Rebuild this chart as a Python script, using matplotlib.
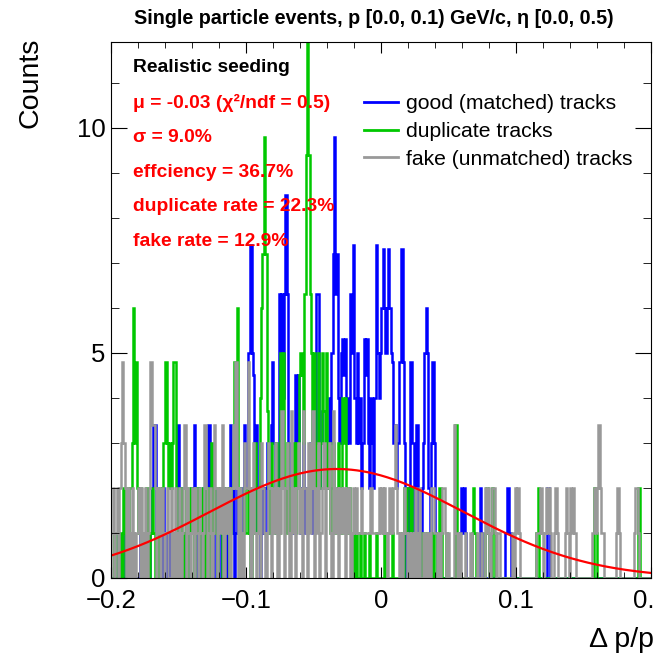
import matplotlib
matplotlib.use("Agg")
import matplotlib.pyplot as plt
from matplotlib.lines import Line2D
import numpy as np

plt.rcParams['font.family'] = ['Liberation Sans', 'DejaVu Sans']

# 400 bins of width 0.001 between -0.2 and 0.2, one row = 20 bins (0.02)
x_lo, x_hi, n_bins = -0.2, 0.2, 400

# good (matched) tracks
good_rows = [
    [0, 0, 0, 0, 0, 1, 0, 0, 0, 0, 1, 0, 0, 0, 0, 0, 1, 0, 0, 0],
    [0, 1, 0, 0, 1, 0, 0, 1, 0, 1, 2, 3.4, 3.4, 1, 0, 0, 1, 0, 2, 0],
    [0, 1, 0, 1, 0, 0, 1, 0, 2, 3.4, 1, 2, 0, 1, 0, 1, 0, 0, 1, 2],
    [2, 3.4, 1, 0, 2, 1, 0, 1, 2, 1, 0, 2, 3.4, 1, 2, 0, 1, 2, 0, 1],
    [1, 0, 2, 1, 2, 0, 1, 2, 3.4, 1, 2, 0, 1, 2, 1, 0, 2, 1, 3.4, 2],
    [2, 5, 5, 7.4, 5, 4.5, 2, 3.4, 1, 2, 0, 1, 2, 1, 2, 3, 1, 2, 3.4, 4.8],
    [3, 2, 1, 2, 6.3, 5, 6.3, 4, 6.3, 8.5, 6.3, 3, 2, 1, 2, 1, 4.5, 3, 4.5, 2],
    [1, 2, 3, 1, 2, 1, 2, 3, 2, 1, 2, 3, 6.3, 6.3, 2, 3, 3.7, 3.7, 3.7, 2],
    [3, 4, 3, 5, 7.2, 9.8, 6.3, 7.2, 4, 3, 5, 5.3, 4.5, 5.3, 3, 4, 3, 6.3, 5, 7.4],
    [4, 3, 5, 3, 4, 2, 3, 5.3, 4.5, 5.3, 3, 2, 4, 3, 2, 4, 7.4, 5, 4, 5],
    [6, 7.3, 6, 5, 6, 7.3, 6, 5, 4.8, 3, 3.4, 2, 3, 4.8, 4.8, 7.3, 4.8, 3, 0, 2],
    [0, 4.8, 4.8, 3, 0, 2, 3.4, 1, 0, 1, 2, 3, 5, 6, 5, 2, 0, 3, 4.8, 3],
    [1, 0, 0, 0, 0, 0, 0, 0, 0, 0, 0, 0, 0, 0, 0, 0, 0, 0, 1, 2],
    [1, 2, 1, 0, 0, 0, 0, 0, 0, 0, 0, 0, 0, 2, 1, 0, 0, 0, 0, 0],
    [0, 0, 0, 0, 0, 0, 0, 0, 0, 0, 0, 0, 1, 2, 2, 1, 0, 0, 0, 0],
    [0, 0, 0, 0, 0, 0, 0, 0, 0, 0, 0, 0, 0, 0, 0, 0, 0, 0, 0, 0],
    [0, 0, 0, 2, 1, 0, 0, 0, 0, 0, 0, 0, 0, 0, 0, 0, 0, 0, 0, 0],
    [0, 0, 0, 0, 0, 0, 0, 0, 0, 0, 0, 0, 0, 0, 0, 0, 0, 0, 0, 0],
    [0, 0, 0, 0, 0, 0, 0, 0, 0, 0, 0, 0, 0, 0, 0, 0, 0, 0, 0, 0],
    [0, 0, 0, 0, 0, 0, 0, 0, 0, 0, 0, 0, 0, 0, 0, 0, 0, 0, 0, 0],
]

# duplicate tracks
dup_rows = [
    [0, 0, 1, 0, 0, 1, 0, 1, 0, 2, 1, 0, 1, 2, 2, 3, 6, 3, 4.8, 2],
    [1, 2, 0, 1, 1, 0, 2, 1, 0, 1, 2, 1, 0, 1, 0, 2, 1, 2, 3, 3],
    [4.8, 3, 2, 3, 2, 3, 4.8, 4.8, 2, 1, 0, 2, 1, 0, 1, 2, 0, 1, 2, 1],
    [1, 0, 2, 1, 2, 0, 1, 2, 1, 0, 2, 1, 2, 0, 3, 1, 2, 1, 0, 2],
    [2, 1, 0, 1, 2, 1, 2, 0, 1, 2, 3, 4.8, 3, 6, 2, 1, 0, 1, 2, 1],
    [1, 2, 1, 0, 2, 1, 3, 2, 1, 2, 4, 6, 7.2, 9.8, 7.2, 3.7, 2, 1, 3, 2],
    [2, 1, 3, 2, 1, 5, 3, 5, 2, 1, 3, 2, 1, 2, 3, 2, 1, 3, 2, 4.5],
    [5, 4.5, 3, 6.3, 9.4, 13, 9.4, 6.3, 5, 3, 5, 2, 3, 5, 2, 3, 5, 3.7, 2, 5],
    [2, 3, 1, 2, 3, 2, 1, 2, 3, 2, 1, 4, 3, 4, 2, 1, 2, 1, 0, 1],
    [0, 1, 0, 0, 1, 0, 0, 1, 0, 0, 0, 1, 0, 0, 0, 0, 1, 0, 0, 0],
    [0, 0, 1, 0, 0, 0, 0, 0, 1, 0, 0, 0, 0, 0, 1, 0, 0, 2, 1, 2],
    [2, 1, 2, 0, 0, 0, 0, 0, 0, 0, 1, 0, 0, 1, 0, 0, 1, 0, 1, 0],
    [0, 1, 0, 2, 1, 0, 0, 0, 1, 0, 0, 0, 0, 0, 0, 3.4, 0, 0, 0, 0],
    [0, 0, 0, 0, 0, 0, 0, 1, 2, 1, 0, 0, 0, 0, 0, 0, 0, 1, 2, 1],
    [0, 0, 2, 1, 0, 0, 0, 0, 0, 0, 0, 0, 0, 0, 0, 0, 0, 0, 0, 0],
    [0, 0, 0, 0, 0, 0, 0, 0, 0, 0, 0, 0, 0, 0, 0, 1, 2, 0, 0, 0],
    [0, 0, 0, 0, 0, 0, 0, 0, 0, 0, 0, 0, 0, 0, 0, 0, 0, 0, 0, 0],
    [0, 0, 0, 0, 0, 0, 0, 0, 0, 0, 0, 0, 0, 0, 0, 0, 0, 0, 2, 1],
    [0, 0, 0, 0, 0, 0, 0, 0, 0, 0, 0, 0, 0, 0, 0, 0, 0, 0, 0, 0],
    [0, 0, 0, 0, 0, 0, 0, 0, 0, 0, 2, 2, 0, 0, 0, 0, 0, 0, 0, 0],
]

# fake (unmatched) tracks
fake_rows = [
    [1, 2, 0, 1, 2, 0, 2, 3, 4.8, 3, 2, 0, 2, 1, 0, 2, 1, 0, 1, 1],
    [2, 0, 2, 0, 1, 2, 0, 1, 2, 4.8, 3.4, 3.4, 2, 0, 2, 1, 0, 2, 1, 0],
    [1, 2, 0, 0, 2, 1, 0, 2, 1, 0, 2, 0, 1, 2, 3.4, 0, 2, 1, 0, 1],
    [2, 0, 2, 1, 0, 2, 1, 0, 1, 3.4, 2, 0, 1, 2, 0, 1, 3.4, 2, 0, 2],
    [1, 2, 3.4, 0, 2, 1, 2, 0, 0, 2, 3.4, 2, 4.8, 2, 0, 2, 1, 0, 3, 2],
    [2, 4.8, 2, 0, 2, 3, 1, 0, 1, 2, 0, 3, 2, 1, 0, 1, 3, 2, 0, 2],
    [1, 3, 2, 0, 2, 1, 3.7, 2, 0, 2, 3, 1, 0, 3.7, 1, 2, 0, 2, 3, 1],
    [2, 0, 3.7, 2, 1, 0, 3, 1, 2, 3.7, 0, 2, 1, 3, 0, 1, 2, 3, 0, 2],
    [2, 3, 1, 0, 3.7, 2, 1, 2, 0, 2, 1, 1, 2, 0, 2, 1, 2, 0, 1, 2],
    [1, 2, 1, 1, 1, 2, 1, 1, 1, 1, 1, 1, 2, 1, 1, 1, 1, 1, 2, 1],
    [2, 1, 2, 1, 0, 1, 2, 1, 1, 2, 3.4, 2, 1, 0, 1, 0, 1, 2, 1, 0],
    [1, 0, 1, 0, 1, 2, 0, 1, 2, 0, 0, 1, 0, 1, 0, 1, 0, 2, 2, 1],
    [1, 0, 1, 0, 1, 2, 2, 1, 0, 1, 0, 0, 0, 0, 3.4, 1, 0, 0, 1, 0],
    [0, 0, 1, 0, 0, 0, 1, 0, 0, 0, 0, 1, 0, 0, 1, 0, 0, 2, 1, 2],
    [0, 1, 2, 2, 1, 0, 1, 1, 0, 0, 0, 0, 0, 0, 0, 0, 0, 1, 0, 2],
    [1, 2, 1, 0, 0, 0, 0, 0, 0, 0, 0, 0, 0, 0, 0, 1, 1, 1, 2, 1],
    [0, 1, 2, 1, 2, 1, 0, 0, 1, 2, 1, 0, 0, 0, 0, 0, 1, 2, 1, 0],
    [2, 1, 2, 1, 0, 0, 0, 0, 0, 0, 0, 0, 0, 0, 0, 0, 1, 1, 2, 1],
    [2, 3.4, 2, 1, 1, 0, 0, 0, 0, 0, 0, 0, 0, 0, 1, 2, 1, 0, 0, 0],
    [0, 0, 0, 0, 0, 0, 0, 1, 2, 2, 1, 0, 0, 0, 0, 0, 0, 0, 0, 0],
]

# gaussian fit
fit_amp, fit_mean, fit_sigma = 2.42, -0.033, 0.094

info_lines = ['\u03bc = -0.03 (\u03c7\u00b2/ndf = 0.5)', '\u03c3 = 9.0%', 'effciency = 36.7%',
              'duplicate rate = 22.3%', 'fake rate = 12.9%']

good = np.concatenate(good_rows)
dup = np.concatenate(dup_rows)
fake = np.concatenate(fake_rows)
edges = np.linspace(x_lo, x_hi, n_bins + 1)

fig = plt.figure(figsize=(6.55, 6.58), dpi=100)
ax = fig.add_axes([0.170, 0.1216, 0.824, 0.8145])

c_good, c_dup, c_fake = '#0000ff', '#00c800', '#999999'
ax.stairs(good, edges, color=c_good, lw=1.8)
ax.stairs(dup, edges, color=c_dup, lw=1.8)
ax.stairs(fake, edges, color=c_fake, lw=1.8)

xf = np.linspace(x_lo, x_hi, 300)
ax.plot(xf, fit_amp * np.exp(-0.5 * ((xf - fit_mean) / fit_sigma) ** 2), color='red', lw=1.6)

ax.set_xlim(x_lo, x_hi)
ax.set_ylim(0, 11.9)
ax.set_xticks([-0.2, -0.1, 0, 0.1, 0.2])
ax.set_xticklabels(['\u22120.2', '\u22120.1', '0', '0.1', '0.2'])
ax.set_xticks(np.arange(-0.2, 0.201, 0.02), minor=True)
ax.set_yticks([0, 5, 10])
ax.set_yticks(np.arange(0, 12), minor=True)
ax.tick_params(which='both', direction='in', top=True, right=True, labelsize=18.5)
ax.tick_params(axis='x', which='major', length=8, pad=8)
ax.tick_params(axis='x', which='minor', length=4)
ax.tick_params(axis='y', which='major', length=11.5, pad=4)
ax.tick_params(axis='y', which='minor', length=6)
for sp in ax.spines.values():
    sp.set_linewidth(0.8)

fig.text(0.570, 0.972, 'Single particle events, p [0.0, 0.1) GeV/c, \u03b7 [0.0, 0.5)',
         ha='center', va='center', fontsize=14.2, fontweight='bold')
fig.text(0.046, 0.943, 'Counts', rotation=90, ha='center', va='top', fontsize=20.5)
fig.text(0.999, 0.027, '\u0394 p/p', ha='right', va='center', fontsize=20.5)

fig.text(0.203, 0.8967, 'Realistic seeding', ha='left', va='center', fontsize=13.9, fontweight='bold')
for i, line in enumerate(info_lines):
    fig.text(0.203, 0.8435 - i * 0.0525, line, ha='left', va='center', fontsize=13.9,
             fontweight='bold', color='red')

handles = [Line2D([], [], color=c, lw=2) for c in (c_good, c_dup, c_fake)]
fig.legend(handles, ['good (matched) tracks', 'duplicate tracks', 'fake (unmatched) tracks'],
           loc='upper left', bbox_to_anchor=(0.556, 0.857), frameon=False, fontsize=15.2,
           handlelength=1.6, handletextpad=0.4, labelspacing=0.42, borderpad=0, borderaxespad=0)

fig.savefig('out.png', dpi=100)
